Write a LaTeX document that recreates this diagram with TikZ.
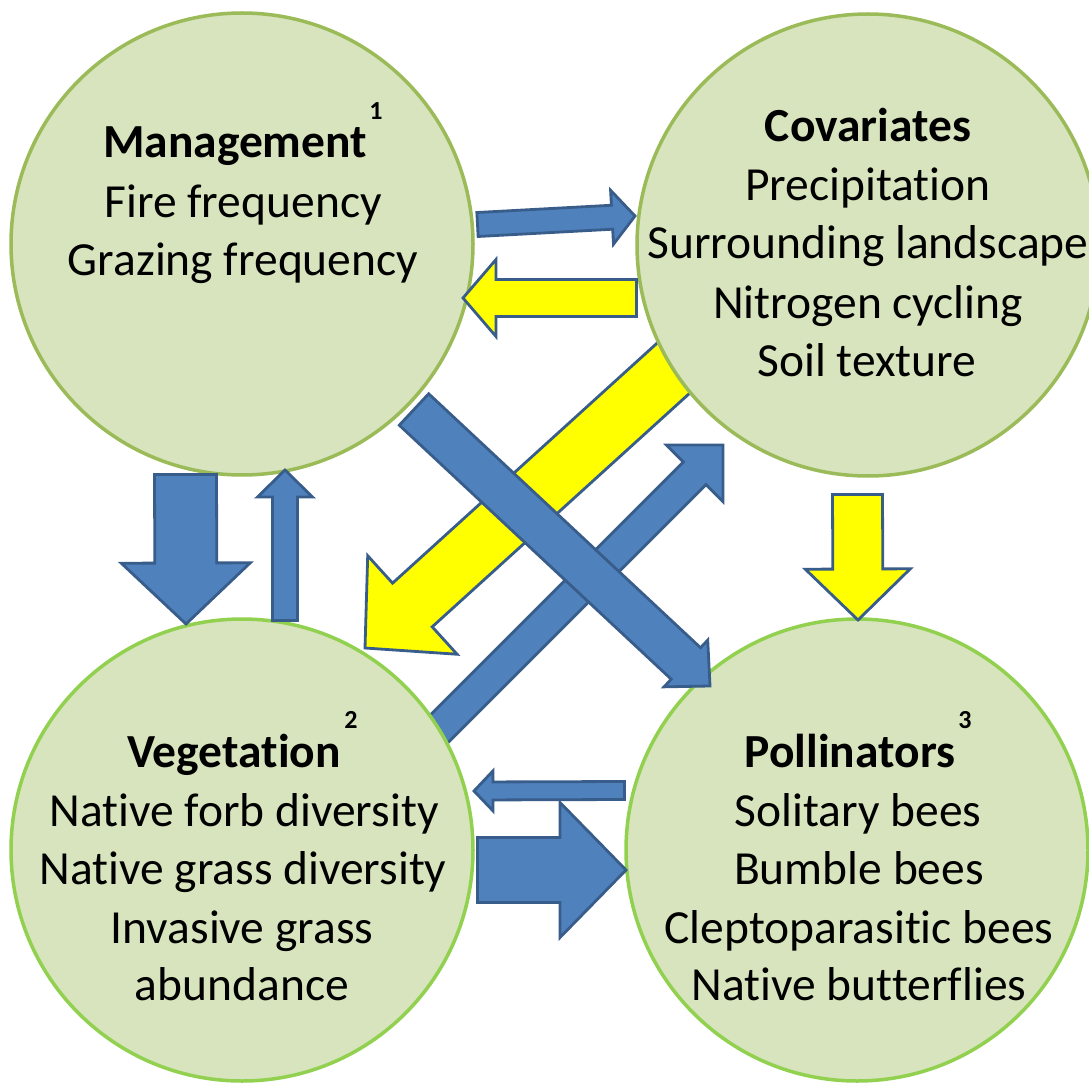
\documentclass[tikz,border=0pt]{standalone}
\usepackage{fontspec}
\setmainfont{Carlito}[Ligatures=NoCommon]
\usetikzlibrary{calc}
\definecolor{circfill}{HTML}{D7E4BD}
\definecolor{olivebd}{HTML}{9BBB59}
\definecolor{greenbd}{HTML}{92D050}
\definecolor{bluefill}{HTML}{4F81BD}
\definecolor{bluebd}{HTML}{385D8A}
\definecolor{yel}{HTML}{FFFF00}
\tikzset{
 bubble/.style={circle, minimum size=462pt, inner sep=0pt, fill=circfill, line width=3.5pt},
 topbubble/.style={bubble, draw=olivebd},
 botbubble/.style={bubble, draw=greenbd},
 bluearr/.style={fill=bluefill, draw=bluebd, line width=2.8pt},
 yelarr/.style={fill=yel, draw=bluebd, line width=2.8pt},
 txt/.style={anchor=base, inner sep=0pt, font=\fontsize{47.5pt}{57pt}\selectfont},
 headtxt/.style={anchor=base, inner sep=0pt, font=\fontsize{47.5pt}{57pt}\selectfont\bfseries},
 supnum/.style={anchor=base, inner sep=0pt, font=\fontsize{26pt}{31pt}\selectfont\bfseries},
}
% #1 style, #2 tail, #3 tip, #4 shaft half width, #5 head half width, #6 head length
\newcommand\blockarr[6]{%
 \coordinate (hb) at ($(#3)!#6!(#2)$);
 \draw[#1] ($(#2)!#4!90:(#3)$) -- ($(hb)!#4!90:(#3)$) -- ($(hb)!#5!90:(#3)$) -- (#3)
   -- ($(hb)!#5!-90:(#3)$) -- ($(hb)!#4!-90:(#3)$) -- ($(#2)!#4!-90:(#3)$) -- cycle;
}
\begin{document}
\begin{tikzpicture}[x=1pt,y=-1pt]
\useasboundingbox (0,0) rectangle (1089,1083);
\clip (0,0) rectangle (1089,1083);
\fill[white] (0,0) rectangle (1089,1083);

% arrows whose tails go behind circles
\coordinate (a3t) at (689,354);  \coordinate (a3h) at (365,648);
\coordinate (a4t) at (400,768);  \coordinate (a4h) at (723,445);
\blockarr{yelarr}{a3t}{a3h}{29.5pt}{66.5pt}{64pt}
\blockarr{bluearr}{a4t}{a4h}{16pt}{40pt}{40pt}

% circles
\node[topbubble] (mgmt) at (242,244) {};
\node[topbubble] (cov)  at (868,245) {};
\node[botbubble] (veg)  at (242,850) {};
\node[botbubble] (poll) at (857,850) {};

% texts
\node[headtxt] (t1a) at (235,158) {Management};
\node[supnum]  (t1s) at (376,120) {1};
\node[txt]     (t1b) at (243,218) {Fire frequency};
\node[txt]     (t1c) at (243,276) {Grazing frequency};

\node[headtxt] (t2a) at (868,142) {Covariates};
\node[txt]     (t2b) at (868,201) {Precipitation};
\node[txt]     (t2c) at (868,259) {Surrounding landscape};
\node[txt]     (t2d) at (868,318) {Nitrogen cycling};
\node[txt]     (t2e) at (867,376) {Soil texture};

\node[headtxt] (t3a) at (234,767) {Vegetation};
\node[supnum]  (t3s) at (351,728) {2};
\node[txt]     (t3b) at (244,826) {Native forb diversity};
\node[txt]     (t3c) at (243,884) {Native grass diversity};
\node[txt]     (t3d) at (242,943) {Invasive grass};
\node[txt]     (t3e) at (242,1000) {abundance};

\node[headtxt] (t4a) at (850,767) {Pollinators};
\node[supnum]  (t4s) at (965,728) {3};
\node[txt]     (t4b) at (858,826) {Solitary bees};
\node[txt]     (t4c) at (859,884) {Bumble bees};
\node[txt]     (t4d) at (859,943) {Cleptoparasitic bees};
\node[txt]     (t4e) at (859,1000) {Native butterflies};

% remaining arrows
\coordinate (a1t) at (477.5,224.5); \coordinate (a1h) at (635,216);
\coordinate (a2t) at (636.5,298);   \coordinate (a2h) at (463,298);
\coordinate (a6t) at (185.5,474.5); \coordinate (a6h) at (186,624);
\coordinate (a7t) at (285,620.5);   \coordinate (a7h) at (285,470);
\coordinate (a8t) at (857.5,494.5); \coordinate (a8h) at (858,620);
\coordinate (a9t) at (624.5,790.5); \coordinate (a9h) at (474,791);
\coordinate (a10t) at (477.5,870);  \coordinate (a10h) at (626,870);
\coordinate (a5t) at (414,409.5);   \coordinate (a5h) at (710,686);

\blockarr{bluearr}{a1t}{a1h}{12pt}{27pt}{23pt}
\blockarr{yelarr}{a2t}{a2h}{18.5pt}{38.5pt}{33pt}
\blockarr{bluearr}{a6t}{a6h}{31pt}{64.5pt}{61pt}
\blockarr{bluearr}{a7t}{a7h}{12.5pt}{27.5pt}{27pt}
\blockarr{yelarr}{a8t}{a8h}{25pt}{52.5pt}{51pt}
\blockarr{bluearr}{a9t}{a9h}{9pt}{20pt}{19pt}
\blockarr{bluearr}{a10t}{a10h}{32.5pt}{67.5pt}{66pt}
\blockarr{bluearr}{a5t}{a5h}{21.5pt}{32pt}{33pt}
\end{tikzpicture}
\end{document}
